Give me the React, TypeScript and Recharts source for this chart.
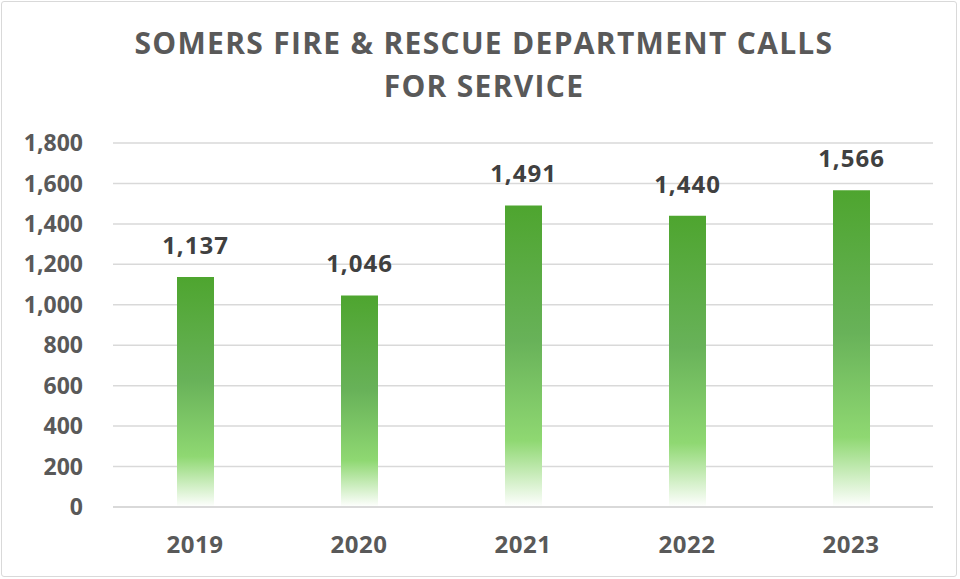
import { BarChart, Bar, XAxis, YAxis, CartesianGrid, LabelList } from "recharts"

const years = ["2019", "2020", "2021", "2022", "2023"]
const calls = [1137, 1046, 1491, 1440, 1566]
const yTicks = [0, 200, 400, 600, 800, 1000, 1200, 1400, 1600, 1800]

const data = years.map((year, i) => ({ year, calls: calls[i] }))

const font = "'Open Sans', sans-serif"

export default function App() {
  return (
    <div style={{ position: "relative", width: 960, height: 579, background: "#fff", fontFamily: font }}>
      <style>{`body{margin:0}`}</style>
      <div
        style={{
          position: "absolute", left: 1, top: 1, width: 956, height: 576,
          border: "1.5px solid #d9d9d9", borderRadius: 3, boxSizing: "border-box",
        }}
      />
      <div
        style={{
          position: "absolute", left: 4, top: 21, width: 960, textAlign: "center",
          fontSize: 30, fontWeight: 700, color: "#595959", lineHeight: "43px", letterSpacing: 1.3,
        }}
      >
        SOMERS FIRE &amp; RESCUE DEPARTMENT CALLS
        <br />
        FOR SERVICE
      </div>
      <div style={{ position: "absolute", left: 0, top: 0 }}>
        <BarChart width={960} height={579} data={data} margin={{ top: 143, right: 27, bottom: 32, left: 0 }}>
          <defs>
            <linearGradient id="greenFade" x1="0" y1="0" x2="0" y2="1">
              <stop offset="0" stopColor="#4ea52f" />
              <stop offset="0.45" stopColor="#68b259" />
              <stop offset="0.78" stopColor="#8fd872" />
              <stop offset="1" stopColor="#ffffff" />
            </linearGradient>
          </defs>
          <CartesianGrid vertical={false} stroke="#d9d9d9" strokeWidth={1.5} />
          <XAxis
            dataKey="year"
            axisLine={{ stroke: "#d9d9d9", strokeWidth: 2 }}
            tickLine={false}
            tickSize={0}
            tickMargin={29}
            height={40}
            tick={{ fill: "#595959", fontSize: 24, fontWeight: 700, fontFamily: font, letterSpacing: 0.5 }}
          />
          <YAxis
            width={113}
            domain={[0, 1800]}
            ticks={yTicks}
            axisLine={false}
            tickLine={false}
            tickSize={0}
            tickMargin={30}
            tickFormatter={(v: number) => v.toLocaleString("en-US")}
            tick={{ fill: "#595959", fontSize: 23, fontWeight: 700, fontFamily: font }}
          />
          <Bar dataKey="calls" fill="url(#greenFade)" barSize={37} isAnimationActive={false}>
            <LabelList
              dataKey="calls"
              position="top"
              offset={23}
              formatter={(v: number) => v.toLocaleString("en-US")}
              style={{ fill: "#404040", fontSize: 24, fontWeight: 700, fontFamily: font, letterSpacing: 1 }}
            />
          </Bar>
        </BarChart>
      </div>
    </div>
  )
}
